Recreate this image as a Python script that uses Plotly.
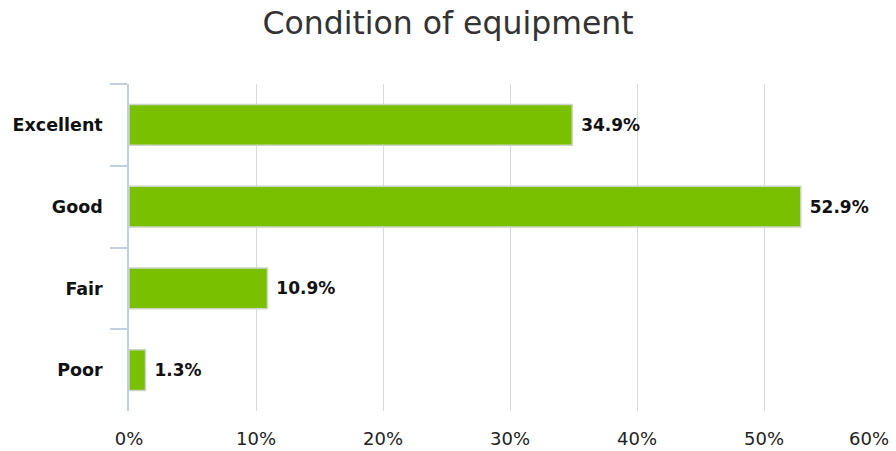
import plotly.graph_objects as go

categories = ["Excellent", "Good", "Fair", "Poor"]
values = [34.9, 52.9, 10.9, 1.3]
tick_vals = [0, 10, 20, 30, 40, 50, 60]
tick_text = ["0%", "10%", "20%", "30%", "40%", "50%", "60%"]

labels = [f" {v}%" for v in values]

fig = go.Figure()
fig.add_trace(go.Bar(
    x=values, y=categories, orientation="h",
    width=0.5,
    marker=dict(color="#78c000", line=dict(color="#cfd4c8", width=1.5)),
    text=labels, textposition="outside", cliponaxis=False,
    textfont=dict(family="DejaVu Sans", size=17, color="#111111", weight="bold"),
    hoverinfo="skip",
))

# last tick label is drawn right-aligned so it stays inside the page
fig.add_annotation(
    x=tick_vals[-1], xref="x", y=0, yref="paper", yanchor="middle", xanchor="right",
    yshift=-27, text=tick_text[-1], showarrow=False,
    font=dict(family="DejaVu Sans", size=18, color="#222222"),
)

fig.update_layout(
    width=896, height=451,
    paper_bgcolor="white", plot_bgcolor="white",
    margin=dict(l=129, r=5, t=84, b=40),
    title=dict(text="Condition of equipment", x=0.5, xanchor="center", y=0.95, yanchor="middle",
               font=dict(family="DejaVu Sans", size=31.5, color="#333333")),
    showlegend=False,
    bargap=0.5,
)
fig.update_xaxes(
    range=[0, 60], tickvals=tick_vals, ticktext=tick_text[:-1] + [""],
    showgrid=True, gridcolor="#d6d9dd", gridwidth=1, zeroline=False,
    showline=False, ticks="", ticklabelstandoff=15, automargin=False,
    tickfont=dict(family="DejaVu Sans", size=18, color="#222222"),
)
fig.update_yaxes(
    categoryorder="array", categoryarray=categories, autorange="reversed",
    showline=True, linecolor="#c0d0e0", linewidth=1.5,
    ticks="outside", tickson="boundaries", ticklen=17, tickcolor="#c0d0e0", tickwidth=1.5,
    tickfont=dict(family="DejaVu Sans", size=17.5, color="#111111", weight="bold"),
    ticklabelstandoff=21, automargin=False,
    showgrid=False,
)

fig.write_html("out.html", config={"displayModeBar": False},
               post_script="document.body.style.margin='0';")
